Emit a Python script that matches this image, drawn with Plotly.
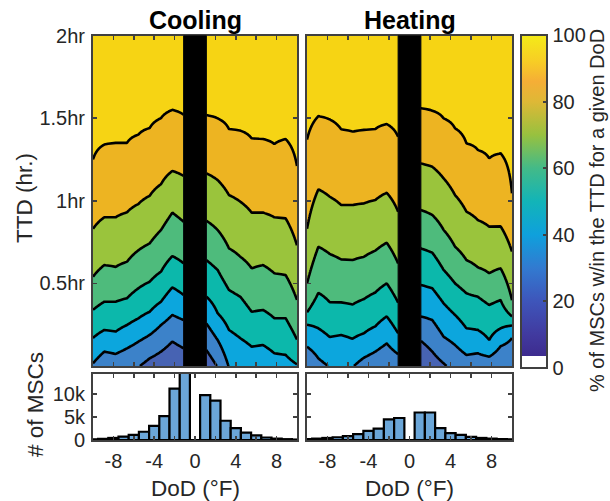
import numpy as np
import plotly.graph_objects as go

# figure fills the whole window; the page's default body margin is removed after plotting
OFF = 0
W, H = 610, 501

# ---------------- data ----------------
# DoD grid of the contour maps (deg F); column at 0 has no data (black band)
dod_grid = [-10, -8.889, -7.778, -6.667, -5.556, -4.444, -3.333, -2.222, -1.111, 0,
            1.111, 2.222, 3.333, 4.444, 5.556, 6.667, 7.778, 8.889, 10]

# % of MSCs within the TTD at TTD = 0, per DoD column
cool_pct_at0 = [39, 33.5, 34.5, 32.5, 30.5, 27, 24.5, 22, 24, None,
                24, 30.5, 40.5, 41, 43.5, 43, 46, 46.5, 49.3]
# TTD (hr) at which each percentage level is reached, per DoD column (None = not reached in view)
cool_ttd_30 = [None, None, None, None, None, 0.046, 0.087, 0.148, 0.107, None,
               0.097, None, None, None, None, None, None, None, None]
cool_ttd_40 = [0.016, 0.087, 0.073, 0.107, 0.147, 0.188, 0.248, 0.309, 0.278, None,
               0.258, 0.157, None, None, None, None, None, None, None]
cool_ttd_50 = [0.17, 0.218, 0.208, 0.248, 0.288, 0.328, 0.389, 0.476, 0.43, None,
               0.42, 0.319, 0.218, 0.168, 0.117, 0.127, 0.077, 0.067, 0.01]
cool_ttd_60 = [0.34, 0.389, 0.389, 0.41, 0.47, 0.51, 0.571, 0.665, 0.621, None,
               0.641, 0.581, 0.46, 0.419, 0.328, 0.339, 0.289, 0.289, 0.16]
cool_ttd_70 = [0.54, 0.611, 0.60, 0.631, 0.70, 0.742, 0.823, 0.928, 0.873, None,
               0.879, 0.823, 0.712, 0.661, 0.591, 0.611, 0.561, 0.55, 0.40]
cool_ttd_80 = [0.83, 0.90, 0.90, 0.93, 0.98, 1.03, 1.10, 1.18, 1.15, None,
               1.166, 1.125, 1.034, 0.994, 0.928, 0.928, 0.90, 0.893, 0.73]
cool_ttd_90 = [1.25, 1.34, 1.35, 1.35, 1.40, 1.44, 1.50, 1.55, 1.52, None,
               1.518, 1.498, 1.434, 1.424, 1.377, 1.373, 1.343, 1.373, 1.21]

heat_pct_at0 = [31, 37.5, 40.5, 40.5, 40.5, 36.6, 34.3, 31.6, 34.3, None,
                21, 25.5, 29, 33, 35.8, 34.5, 35, 32, 32]
heat_ttd_30 = [None, None, None, None, None, None, None, None, None, None,
               0.152, 0.087, 0.016, None, None, None, None, None, None]
heat_ttd_40 = [0.117, 0.046, None, None, None, 0.05, 0.087, 0.137, 0.072, None,
               0.30, 0.278, 0.177, 0.127, 0.067, 0.077, 0.056, 0.12, 0.17]
heat_ttd_50 = [0.25, 0.228, 0.175, 0.188, 0.165, 0.198, 0.24, 0.30, 0.198, None,
               0.49, 0.47, 0.379, 0.309, 0.228, 0.218, 0.157, 0.228, 0.245]
heat_ttd_60 = [0.325, 0.443, 0.386, 0.385, 0.372, 0.405, 0.445, 0.50, 0.384, None,
               0.712, 0.686, 0.581, 0.50, 0.44, 0.419, 0.369, 0.399, 0.30]
heat_ttd_70 = [0.50, 0.722, 0.678, 0.645, 0.641, 0.661, 0.698, 0.746, 0.621, None,
               0.944, 0.914, 0.823, 0.722, 0.641, 0.597, 0.561, 0.591, 0.399]
heat_ttd_80 = [0.83, 1.069, 1.024, 0.974, 0.974, 0.984, 1.004, 1.048, 0.934, None,
               1.226, 1.206, 1.135, 1.034, 0.934, 0.883, 0.843, 0.845, 0.692]
heat_ttd_90 = [1.37, 1.512, 1.492, 1.432, 1.418, 1.428, 1.434, 1.464, 1.387, None,
               1.559, 1.545, 1.498, 1.438, 1.347, 1.307, 1.256, 1.287, 1.045]
pct_at_2hr = 97

# histogram of MSC counts per DoD bin
hist_dod = [-10, -9, -8, -7, -6, -5, -4, -3, -2, -1, 0, 1, 2, 3, 4, 5, 6, 7, 8, 9, 10]
cool_counts = [150, 250, 450, 750, 1100, 1800, 3100, 5200, 11200, 15000, 0,
               9800, 8600, 4200, 2600, 1600, 1000, 550, 300, 180, 100]
heat_counts = [200, 300, 450, 600, 850, 1300, 2000, 2500, 4500, 4800, 0,
               6000, 6000, 2600, 1500, 1100, 700, 450, 300, 200, 150]

levels = [30, 40, 50, 60, 70, 80, 90]
ttd_ticks = [0.5, 1, 1.5, 2]
ttd_labels = ['0.5hr', '1hr', '1.5hr', '2hr']
dod_ticks = [-8, -6, -4, -2, 0, 2, 4, 6, 8]
dod_labels = ['-8', '', '-4', '', '0', '', '4', '', '8']
count_ticks = [0, 5000, 10000]
count_labels = ['0', '5k', '10k']
cbar_ticks = [0, 20, 40, 60, 80, 100]

# ---------------- styling ----------------
FONT = 'Liberation Sans, Arial, sans-serif'
TXT = '#262626'
FRAME = '#404040'
band_colors = ['#3E2A8F', '#403C9C', '#4763B3', '#3C82C9', '#0CA6DD',
               '#0CB8AB', '#4EBB7C', '#9AC43C', '#EDB422', '#F6D414']
cbar_scale = [[0.0, '#FFFFFF'], [0.035, '#FFFFFF'], [0.035, '#3D2B8E'], [0.10, '#413A9F'],
              [0.20, '#3E55BA'], [0.30, '#327AD0'], [0.40, '#0FA0DC'], [0.50, '#12B4B8'],
              [0.60, '#43BA88'], [0.70, '#98C13F'], [0.80, '#DEB836'], [0.86, '#F5AE36'],
              [0.92, '#F7CD25'], [1.0, '#F4EB18']]

# contour fill colours: plotly colours band [L, L+10] with colormap(L+5), domain mapped to [0, 90]
bounds = [(10 + 10 * k) / 90 for k in range(8)] + [87.5 / 90]
fill_scale = [[0.0, band_colors[0]]]
for k, b in enumerate(bounds):
    fill_scale.append([b, band_colors[k]])
    fill_scale.append([b, band_colors[k + 1]])
fill_scale.append([1.0, band_colors[-1]])

ttd_fine = np.linspace(0, 2, 401)


def build_grid(pct0, crossing_lists):
    z = np.full((len(ttd_fine), len(dod_grid)), np.nan)
    for c in range(len(dod_grid)):
        if pct0[c] is None:
            continue
        ys, vs = [0.0], [pct0[c]]
        for lev, arr in zip(levels, crossing_lists):
            if arr[c] is not None and arr[c] > 0:
                ys.append(arr[c])
                vs.append(lev)
        ys.append(2.0)
        vs.append(pct_at_2hr)
        z[:, c] = np.interp(ttd_fine, ys, vs)
    return z


z_cool = build_grid(cool_pct_at0, [cool_ttd_30, cool_ttd_40, cool_ttd_50, cool_ttd_60,
                                   cool_ttd_70, cool_ttd_80, cool_ttd_90])
z_heat = build_grid(heat_pct_at0, [heat_ttd_30, heat_ttd_40, heat_ttd_50, heat_ttd_60,
                                   heat_ttd_70, heat_ttd_80, heat_ttd_90])

fig = go.Figure()
gap = dod_grid.index(0)


def add_contours(z, xa, ya):
    for cols in (slice(0, gap), slice(gap + 1, None)):
        fig.add_trace(go.Contour(
            x=dod_grid[cols], y=ttd_fine, z=z[:, cols],
            autocontour=False,
            contours=dict(start=10, end=90, size=10, coloring='fill', showlines=True),
            line=dict(color='black', width=2.6, smoothing=0),
            colorscale=fill_scale, showscale=False, hoverinfo='skip',
            xaxis=xa, yaxis=ya))


add_contours(z_cool, 'x', 'y')
add_contours(z_heat, 'x2', 'y2')

for counts, xa, ya in ((cool_counts, 'x3', 'y3'), (heat_counts, 'x4', 'y4')):
    fig.add_trace(go.Bar(x=hist_dod, y=counts, width=1,
                         marker=dict(color='#6BA6D8', line=dict(color='black', width=2.2)),
                         xaxis=xa, yaxis=ya, showlegend=False))


def fx(px):
    return (px - OFF) / W


def fy(py):
    return (H - (py - OFF)) / H


# colorbar carrier
fig.add_trace(go.Scatter(
    x=[0, 0], y=[1, 1], mode='markers', xaxis='x', yaxis='y', hoverinfo='skip',
    marker=dict(size=1, opacity=0, color=[0, 100], cmin=0, cmax=100,
                colorscale=cbar_scale, showscale=True,
                colorbar=dict(thickness=26, thicknessmode='pixels',
                              len=333, lenmode='pixels',
                              x=fx(521), xanchor='left', xpad=0,
                              y=fy(201.5), yanchor='middle', ypad=0,
                              outlinewidth=2, outlinecolor=FRAME,
                              tickvals=cbar_ticks, ticks='inside', ticklen=5,
                              tickcolor=FRAME, tickwidth=2,
                              tickfont=dict(family=FONT, size=20, color=TXT))),
    showlegend=False))

# black bands (no data at DoD = 0)
for xr, yr in (('x', 'y'), ('x2', 'y2')):
    fig.add_shape(type='rect', xref=xr, yref=yr, x0=dod_grid[gap - 1], x1=dod_grid[gap + 1],
                  y0=0, y1=2, fillcolor='black', line=dict(color='black', width=1), layer='above')


def px_x(a, b):
    return [fx(a), fx(b)]


def px_y(top, bottom):
    return [fy(bottom), fy(top)]


axis_common = dict(ticks='inside', ticklen=4, tickwidth=1.5, tickcolor=FRAME,
                   showline=True, linecolor=FRAME, linewidth=2, mirror='ticks',
                   showgrid=False, zeroline=False, automargin=False,
                   tickfont=dict(family=FONT, size=20, color=TXT))

contour_x = dict(axis_common, range=[-10, 10], tickvals=[-8, -6, -4, -2, 2, 4, 6, 8],
                 showticklabels=False)
hist_x = dict(axis_common, range=[-10, 10], tickvals=dod_ticks, ticktext=dod_labels,
              ticklabelstandoff=2)
contour_y = dict(axis_common, range=[0, 2], tickvals=ttd_ticks, ticktext=ttd_labels,
                 ticklabelstandoff=2)
hist_y = dict(axis_common, range=[0, 14400], tickvals=count_ticks, ticktext=count_labels,
              ticklabelstandoff=2)

fig.update_layout(
    width=W, height=H, margin=dict(l=0, r=0, t=0, b=0, pad=0, autoexpand=False),
    paper_bgcolor='white', plot_bgcolor='white', showlegend=False,
    xaxis=dict(contour_x, domain=px_x(93, 297), anchor='y'),
    yaxis=dict(contour_y, domain=px_y(35.5, 366), anchor='x'),
    xaxis2=dict(contour_x, domain=px_x(307, 512), anchor='y2'),
    yaxis2=dict(contour_y, domain=px_y(35.5, 366), anchor='x2', showticklabels=False),
    xaxis3=dict(hist_x, domain=px_x(93, 297), anchor='y3'),
    yaxis3=dict(hist_y, domain=px_y(374, 440), anchor='x3'),
    xaxis4=dict(hist_x, domain=px_x(307, 512), anchor='y4'),
    yaxis4=dict(hist_y, domain=px_y(374, 440), anchor='x4', showticklabels=False),
)


def ann(text, x, y, size, angle=0, bold=False):
    fig.add_annotation(text=f'<b>{text}</b>' if bold else text, x=fx(x), y=fy(y),
                       xref='paper', yref='paper', showarrow=False, textangle=angle,
                       xanchor='center', yanchor='middle', borderpad=0,
                       font=dict(family=FONT, size=size, color='black' if bold else TXT))


ann('Cooling', 195, 19.5, 25, bold=True)
ann('Heating', 409.5, 19.5, 25, bold=True)
ann('TTD (hr.)', 24, 198, 22.5, angle=-90)
ann('# of MSCs', 35, 405, 22.5, angle=-90)
ann('DoD (°F)', 195, 488, 22.5)
ann('DoD (°F)', 409.5, 488, 22.5)
ann('% of MSCs w/in the TTD for a given DoD', 597, 211, 20, angle=-90)

fig.write_html('out.html',
               config={'displayModeBar': False, 'staticPlot': True},
               post_script="document.body.style.margin='0px';"
                           "document.documentElement.style.overflow='hidden';")
